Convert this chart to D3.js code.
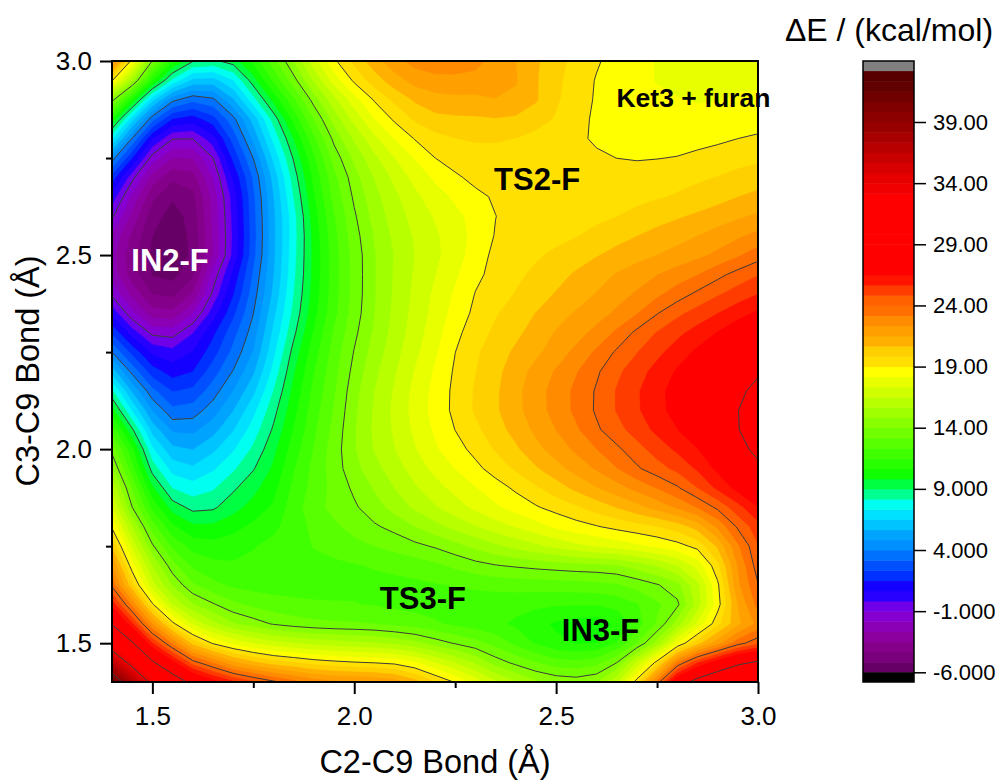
<!DOCTYPE html>
<html>
<head>
<meta charset="utf-8">
<script src="https://cdn.jsdelivr.net/npm/d3@7"></script>
<style>
  body { margin: 0; background: #fff; }
  text { font-family: "Liberation Sans", Arial, sans-serif; fill: #000; }
</style>
</head>
<body>
<svg id="chart" width="995" height="780"></svg>
<script>
// energies, one row per C3-C9 value, C2-C9 = 1.40 ... 3.00 in 0.05 steps
const z300 = [24,19.2,14.2,11,9.3,9.1,9.6,11,13,15,17.2,19.1,20.2,21.3,22.2,22.8,23,23,22.8,22,21.5,20.8,20.1,19.6,19.1,18.7,18.4,18.1,18,18,18,18,18];
const z295 = [19.8,15.5,10.5,7.9,6,5.9,7,9.5,11.7,13.7,15.8,17.8,19.3,20.3,21.2,21.9,22.1,22.1,22,21.9,21.7,20.7,20,19.4,18.9,18.6,18.3,18.1,18,18,18,18.1,18.1];
const z290 = [14.8,10.2,6.5,3.8,3.2,3.5,5.5,7.9,10.1,12.1,14.4,16.2,17.8,19.1,20,20.8,21.2,21.3,21.3,21.6,21.5,20.9,19.9,19.4,18.9,18.5,18.4,18.3,18.2,18.1,18.1,18.2,18.2];
const z285 = [11,6.5,3.2,1.2,0.8,1.9,3.5,5.8,8.4,10.9,13.2,15.2,16.8,18.2,19.2,20,20.5,20.5,20.5,20.6,20.5,20.2,19.8,19.3,18.8,18.5,18.4,18.3,18.3,18.3,18.4,18.5,18.5];
const z280 = [8,3.8,0.4,-1.3,-1.2,0.1,2.7,5,7.6,9.8,12.1,14.3,15.8,17.1,18.2,19.1,19.5,19.8,19.9,19.9,19.8,19.5,19.3,19.1,18.9,18.5,18.5,18.6,18.6,18.7,18.8,19,19.2];
const z275 = [4.7,1.5,-1.7,-2.9,-2.9,-1.3,1.8,3.9,6.7,9.1,11.3,13.6,15,16.3,17.3,18.2,19.1,19.4,19.5,19.5,19.4,19.3,19.2,19.2,19.1,19,18.9,18.95,19,19.2,19.4,19.5,19.65];
const z270 = [2.3,-1,-3.2,-4.4,-4.2,-1.9,0.7,3.2,5.9,8.6,10.9,12.9,14.5,15.7,16.7,17.6,18.3,18.9,19.3,19.4,19.4,19.4,19.4,19.4,19.4,19.4,19.45,19.5,19.6,19.7,19.85,20.1,20.3];
const z265 = [0.6,-2.2,-4.4,-5.3,-4.9,-2.5,0.1,3,5.6,8.2,10.6,12.7,14.2,15.4,16.3,17.1,17.8,18.3,18.8,19.1,19.3,19.4,19.5,19.5,19.5,19.5,19.55,19.7,19.85,20.1,20.3,20.65,20.9];
const z260 = [-0.5,-3,-5,-5.8,-5.1,-2.5,0,2.9,5.5,7.8,10.3,12.3,13.9,15.2,16.1,16.8,17.4,17.9,18.4,19,19.3,19.4,19.4,19.4,19.55,19.77,20.05,20.35,20.57,20.8,21.1,21.35,21.65];
const z255 = [-1.8,-3.8,-5.3,-5.9,-5.2,-2.6,-0.1,2.8,5.5,7.8,10.1,12.1,13.7,14.9,15.9,16.6,17.2,17.7,18.4,19.1,19.3,19.4,19.55,19.75,20.1,20.4,20.65,20.95,21.2,21.5,21.85,22.2,22.6];
const z250 = [-2.2,-4.2,-5.5,-5.95,-5.3,-2.9,-0.1,2.9,5.5,7.9,10.1,12,13.5,14.8,15.7,16.5,17.1,17.7,18.6,19.3,19.55,19.7,20,20.3,20.6,20.9,21.2,21.45,21.75,22.05,22.4,22.95,23.7];
const z245 = [-2,-4.2,-5.5,-5.7,-5,-1.3,0.9,3.3,5.6,8,10.1,12,13.5,14.8,15.8,16.6,17.3,18,18.85,19.25,19.65,20,20.4,20.8,21.2,21.6,21.95,22.35,22.7,23.1,23.8,24.4,24.9];
const z240 = [-1,-3,-4.6,-4.8,-3.7,-0.8,1.4,3.6,5.8,8.2,10.2,12,13.5,14.8,15.8,16.7,17.5,18.3,19.1,19.45,19.85,20.3,20.7,21.1,21.5,22,22.4,22.9,23.55,24.2,24.75,25.2,25.7];
const z235 = [0.7,-1.8,-3.4,-3.6,-2,0.3,2.1,3.9,6.3,8.4,10.4,12.1,13.6,14.8,15.9,16.8,17.6,18.5,19.2,19.8,20.2,20.7,21.2,21.6,22,22.4,23,24,24.7,25.2,25.65,26.15,26.7];
const z230 = [2.5,0.2,-1.4,-1.5,-0.1,1.35,2.9,4.3,6.7,8.8,10.8,12.5,13.8,15,16,16.9,17.8,18.8,19.5,20,20.45,21,21.6,22,22.5,23.3,24.35,24.95,25.5,26,26.55,27.2,27.9];
const z225 = [4.2,2,0.4,0.1,0.6,1.9,3.4,4.7,7.1,9.4,11.2,12.7,14.1,15.2,16.2,17.1,18,19.05,19.75,20.25,20.85,21.25,21.9,22.5,23.35,24.2,24.8,25.45,26.05,26.7,27.3,27.9,28.6];
const z220 = [6.5,3.6,1.7,0.9,1.3,2.8,4,5.4,7.6,9.8,11.5,12.9,14.3,15.5,16.4,17.4,18.3,19.15,19.8,20.45,21.1,21.85,22.45,23.15,23.9,24.7,25.35,26,26.65,27.25,27.85,28.4,28.9];
const z215 = [8.8,5.4,3.3,2.1,2.4,3.6,4.8,6.2,8.2,10.1,11.8,13,14.6,15.7,16.6,17.6,18.4,19.25,19.95,20.5,21.3,22,22.7,23.4,24.1,24.95,25.6,26.3,26.9,27.5,28.1,28.8,29.4];
const z210 = [10.6,7.1,4.65,3.1,3.5,4.35,5.6,7.1,8.7,10.4,12,13.2,14.7,15.8,16.7,17.7,18.5,19.25,20,20.55,21.3,22,22.7,23.4,24.15,24.95,25.6,26.25,26.9,27.5,28.2,29,29.9];
const z205 = [12.4,9.2,5.95,4.5,4.5,5.3,6.4,7.7,9.1,10.7,12.2,13.4,14.8,15.9,16.6,17.5,18.3,19.05,19.65,20.3,21,21.7,22.35,23.05,23.95,24.6,25.25,25.95,26.5,27.2,27.9,29,30];
const z200 = [14.2,11,7.2,5.7,5.5,6.3,7.2,8.3,9.6,11.1,12.4,13.6,14.8,15.8,16.5,17.3,18.1,18.7,19.25,19.95,20.5,21.3,21.95,22.5,23.15,23.8,24.5,25.2,25.85,26.4,27.4,28.7,29.5];
const z195 = [15.4,11.6,8.4,6.8,6.5,7.2,8,8.9,9.9,11.5,12.6,13.6,14.6,15.4,16.1,16.9,17.6,18.2,18.8,19.4,20,20.6,21.2,21.9,22.45,23.2,24,24.6,25.1,25.8,26.7,27.6,28.9];
const z190 = [16.8,13.1,9.8,7.9,7.6,8,8.9,9.6,10.3,11.8,12.6,13.4,14.15,14.9,15.7,16.4,17,17.6,18.1,18.6,19.1,19.7,20.3,20.9,21.5,22,22.6,23.2,23.85,24.9,26,26.9,28];
const z185 = [17.9,13.7,11.1,9.3,8.6,8.7,9.5,10.1,10.7,12,13,13.5,13.85,14.5,15.2,15.9,16.5,17,17.6,18.1,18.6,18.95,19.3,19.7,20.2,20.7,21.3,21.9,22.6,23.3,24.15,25.3,26.6];
const z180 = [19.3,15.7,12.6,10.7,9.9,10,10.4,10.9,11.3,11.9,12.5,13,13.5,13.9,14.2,14.8,15.4,16,16.5,17,17.4,17.9,18.4,18.7,18.95,19.25,19.45,19.65,20,20.8,22.5,24.2,25.4];
const z175 = [21,17,14,12,11.1,11,11.1,11.5,11.8,12.1,12.4,12.6,12.9,13.2,13.5,13.8,14.05,14.5,15,15.5,16,16.4,16.8,17.3,17.6,17.9,18.2,18.5,18.8,19.1,20.6,23,25];
const z170 = [22.9,18.3,15.6,13.4,12,11.7,11.6,11.7,11.8,12,12.1,12.1,12.2,12.3,12.4,12.6,12.9,13.3,13.7,13.95,14.05,14.2,14.3,14.4,14.4,14.45,15,15.6,16.4,17.5,19.4,22.4,24.8];
const z165 = [24.2,19.7,16.5,14.6,13.1,12.4,12,11.9,11.9,12,12.1,12.1,12.1,12.1,12.1,12.1,12.2,12.3,12.4,12.5,12.6,12.6,12.65,12.7,12.8,13,13.4,13.8,14.2,16,18.6,22.5,24.15];
const z160 = [26.7,23,18.8,16.2,14.7,14.1,13.3,12.9,12.6,12.4,12.3,12.3,12.3,12.2,12,11.9,11.9,11.9,11.8,11.8,11.7,11.7,11.6,11.6,11.6,11.7,12.1,12.9,13.2,15.8,18.4,21.6,23.9];
const z155 = [29.1,25.8,22.3,18.9,17,15.7,14.6,14.2,13.6,13.3,13.1,13,13,12.9,12.7,12.5,12.2,11.9,11.7,11.5,11.2,10.7,10.3,10.1,9.7,10.5,11.7,12.9,15,17.3,19.5,20.9,22.3];
const z150 = [32.8,29.2,25.5,23.2,20.1,18.6,17.9,17.2,16.8,16.5,16.2,16,15.8,15.7,15.4,15,14.3,13.8,13.4,12.9,12,11.2,10.6,10.35,10.3,11.2,12.8,14.7,18,20,21.5,23.4,24.3];
const z145 = [37.1,33,29,26.8,24.2,23.2,21.4,20.7,20,19.8,19.4,19.2,19,18.9,18.8,18.3,17.4,16.5,15.5,14.2,13.7,13.2,12.6,12.5,12.8,13.7,16.8,19.1,23.5,25.8,27.3,28.7,29.4];
const z140 = [42,37.8,33.7,31,28.8,27.5,26.5,25.6,24.8,24,23.3,23,23,22.8,22.5,21.5,20.2,19.3,18.2,17,16,15.2,14.9,14.7,14.9,16.5,19.7,24,28.8,30.5,31.8,33.1,35];

const zRows = [z300,z295,z290,z285,z280,z275,z270,z265,z260,z255,z250,z245,z240,z235,z230,z225,z220,z215,z210,z205,z200,z195,z190,z185,z180,z175,z170,z165,z160,z155,z150,z145,z140];

// one colour per 5/6 kcal/mol band, bottom of the colour bar first
const bandColors = [
  "#660066","#78007a","#85008a","#8b009e","#8b00b6","#8500d0","#7000e8","#2800ff","#1400ff","#0030ff",
  "#0050ff","#0070ff","#0090ff","#00a4ff","#00c4ff","#00e0ff","#00fff0","#00ff90","#00ff40","#10ff00",
  "#28ff00","#40ff00","#58ff00","#70ff00","#88ff00","#a0ff00","#b8ff00","#d0ff00","#e8ff00","#ffff00",
  "#ffe000","#ffd000","#ffb000","#ffa000","#ff8c00","#ff7000","#ff6000","#ff3c00","#ff1400","#ff0000",
  "#ff0000","#ff0000","#ff0000","#ff0000","#ff0000","#ff0000","#ff0000","#f00000","#e60000","#d80000",
  "#c80000","#b80000","#a80000","#980000","#8c0000","#800000","#700000","#600000","#580000"
];
const lineLevels = [-6,-1,4,9,14,19,24,29,34,39];
const barTickLabels = ["-6.000","-1.000","4.000","9.000","14.00","19.00","24.00","29.00","34.00","39.00"];
const majorTicks = [1.5,2.0,2.5,3.0];
const minorTicks = [1.75,2.25,2.75];
const peakLabels = [
  {name: "IN2-F", a: 1.5437, b: 2.459, size: 31, color: "#fff"},
  {name: "TS2-F", a: 2.453, b: 2.668, size: 31, color: "#000"},
  {name: "Ket3 + furan", a: 2.84, b: 2.882, size: 26.5, color: "#000"},
  {name: "TS3-F", a: 2.17, b: 1.588, size: 31, color: "#000"},
  {name: "IN3-F", a: 2.61, b: 1.506, size: 31, color: "#000"}
];

const svg = d3.select("#chart");
const x = d3.scaleLinear().domain([1.4, 3.0]).range([112, 758]);
const y = d3.scaleLinear().domain([1.4, 3.0]).range([682, 61]);

// d3.contours puts value i at i + 0.5
const nCols = zRows[0].length, nRows = zRows.length;
const gridX = d3.scaleLinear().domain([0.5, nCols - 0.5]).range([1.4, 3.0]);
const gridY = d3.scaleLinear().domain([0.5, nRows - 0.5]).range([3.0, 1.4]);
const projection = d3.geoTransform({
  point: function(px, py) { this.stream.point(x(gridX(px)), y(gridY(py))); }
});
const path = d3.geoPath(projection);

// a very light blur takes the hand reading noise out of the contours
const flat = zRows.flat();
d3.blur2({data: flat, width: nCols}, 0.05);
const bandEdges = bandColors.map((c, i) => -6 + i * 5 / 6);
const contourFn = d3.contours().size([nCols, nRows]);

svg.append("clipPath").attr("id", "plot-clip")
  .append("rect")
  .attr("x", x(1.4)).attr("y", y(3.0))
  .attr("width", x(3.0) - x(1.4)).attr("height", y(1.4) - y(3.0));

const plotG = svg.append("g").attr("clip-path", "url(#plot-clip)");

plotG.selectAll("path.band")
  .data(bandEdges.map(t => contourFn.contour(flat, t)))
  .join("path")
  .classed("band", true)
  .attr("d", path)
  .attr("fill", (d, i) => bandColors[i])
  .attr("stroke", (d, i) => bandColors[i])
  .attr("stroke-width", 0.4);

plotG.selectAll("path.level")
  .data(lineLevels.map(t => contourFn.contour(flat, t)))
  .join("path")
  .classed("level", true)
  .attr("d", path)
  .attr("fill", "none")
  .attr("stroke", "#3c3c3c")
  .attr("stroke-width", 1);

// axes
const axisFont = 26;
const xAxisG = svg.append("g").attr("transform", `translate(0,${y(1.4)})`);
xAxisG.call(d3.axisBottom(x).tickValues(minorTicks).tickSize(6).tickFormat(""));
xAxisG.call(g => g.select(".domain").remove());
const xMajorG = svg.append("g").attr("transform", `translate(0,${y(1.4)})`)
  .call(d3.axisBottom(x).tickValues(majorTicks).tickSize(12).tickPadding(13).tickFormat(d3.format(".1f")));
xMajorG.select(".domain").remove();

const yAxisG = svg.append("g").attr("transform", `translate(${x(1.4)},0)`);
yAxisG.call(d3.axisLeft(y).tickValues(minorTicks).tickSize(6).tickFormat(""));
yAxisG.select(".domain").remove();
const yMajorG = svg.append("g").attr("transform", `translate(${x(1.4)},0)`)
  .call(d3.axisLeft(y).tickValues(majorTicks).tickSize(12).tickPadding(8).tickFormat(d3.format(".1f")));
yMajorG.select(".domain").remove();

svg.selectAll(".tick line").attr("stroke", "#000").attr("stroke-width", 2);
svg.selectAll(".tick text").attr("font-size", axisFont).attr("font-family", '"Liberation Sans", Arial, sans-serif');

svg.append("rect")
  .attr("x", x(1.4)).attr("y", y(3.0))
  .attr("width", x(3.0) - x(1.4)).attr("height", y(1.4) - y(3.0))
  .attr("fill", "none").attr("stroke", "#000").attr("stroke-width", 2);

svg.append("text").attr("x", 435).attr("y", 773)
  .attr("text-anchor", "middle").attr("font-size", 32.5)
  .text("C2-C9 Bond (Å)");
svg.append("text")
  .attr("transform", "translate(39,371) rotate(-90)")
  .attr("text-anchor", "middle").attr("font-size", 32.5)
  .text("C3-C9 Bond (Å)");

svg.selectAll("text.peak")
  .data(peakLabels)
  .join("text")
  .classed("peak", true)
  .attr("x", d => x(d.a))
  .attr("y", d => y(d.b))
  .attr("text-anchor", "middle")
  .attr("font-size", d => d.size)
  .attr("font-weight", "bold")
  .style("fill", d => d.color)
  .text(d => d.name);

// colour bar
const barX = 863, barW = 51;
const barY = d3.scaleLinear().domain([-6, 39]).range([672.3, 122]);
const barG = svg.append("g");

barG.selectAll("rect.swatch")
  .data(bandEdges)
  .join("rect")
  .classed("swatch", true)
  .attr("x", barX)
  .attr("width", barW)
  .attr("y", d => barY(d + 5 / 6))
  .attr("height", d => barY(d) - barY(d + 5 / 6) + 0.5)
  .attr("fill", (d, i) => bandColors[i]);

barG.append("rect").attr("x", barX).attr("width", barW)
  .attr("y", 61).attr("height", barY(-6 + bandColors.length * 5 / 6) - 61).attr("fill", "#808080");
barG.append("rect").attr("x", barX).attr("width", barW)
  .attr("y", barY(-6)).attr("height", 682 - barY(-6)).attr("fill", "#000");
barG.append("rect").attr("x", barX).attr("width", barW)
  .attr("y", 61).attr("height", 621)
  .attr("fill", "none").attr("stroke", "#000").attr("stroke-width", 1.5);

const barAxis = svg.append("g").attr("transform", `translate(${barX + barW},0)`)
  .call(d3.axisRight(barY).tickValues(lineLevels).tickSize(12).tickPadding(7)
    .tickFormat((d, i) => barTickLabels[i]));
barAxis.select(".domain").remove();
barAxis.selectAll(".tick line").attr("stroke", "#000").attr("stroke-width", 1.5);
barAxis.selectAll(".tick text").attr("font-size", 22).attr("font-family", '"Liberation Sans", Arial, sans-serif');

svg.append("text").attr("x", 889).attr("y", 41)
  .attr("text-anchor", "middle").attr("font-size", 32)
  .text("ΔE / (kcal/mol)");
</script>
</body>
</html>
